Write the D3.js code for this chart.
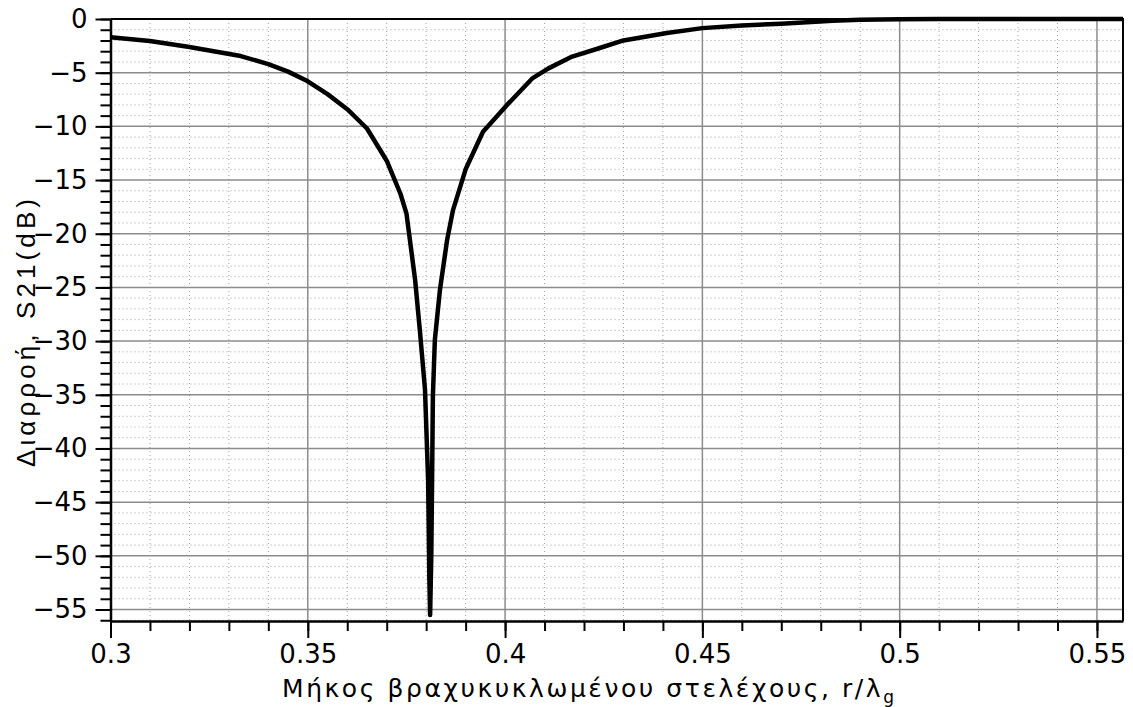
<!DOCTYPE html>
<html>
<head>
<meta charset="utf-8">
<script src="https://cdn.jsdelivr.net/npm/d3@7"></script>
<style>
  body { margin: 0; background: #fff; }
  svg { display: block; }
  .tick text { font-family: "DejaVu Sans", sans-serif; font-size: 26px; fill: #000; }
</style>
</head>
<body>
<div id="container"></div>
<script>
// stub length r/lambda_g
const stubLength = [0.300, 0.310, 0.320, 0.333, 0.340, 0.345, 0.350, 0.355, 0.360, 0.365,
  0.370, 0.3735, 0.375, 0.3772, 0.3784, 0.3797, 0.3805, 0.3808, 0.3810, 0.3813,
  0.3815, 0.3817, 0.3822, 0.3835, 0.3853, 0.3868, 0.390, 0.3944, 0.4005, 0.407,
  0.411, 0.417, 0.424, 0.430, 0.441, 0.450, 0.460, 0.470, 0.483, 0.490,
  0.500, 0.510, 0.5566]
// leakage S21 (dB)
const s21 = [-1.7, -2.05, -2.6, -3.45, -4.2, -4.9, -5.8, -7.0, -8.4, -10.2,
  -13.2, -16.3, -18.1, -24.3, -29.0, -34.5, -43.0, -52.0, -55.5, -50.0,
  -43.0, -35.2, -29.9, -25.2, -20.6, -17.8, -14.0, -10.5, -8.0, -5.5,
  -4.6, -3.5, -2.7, -2.0, -1.3, -0.85, -0.6, -0.45, -0.16, -0.08,
  -0.03, -0.01, 0]

const xMajor = [0.3, 0.35, 0.4, 0.45, 0.5, 0.55]
const yMajor = [0, -5, -10, -15, -20, -25, -30, -35, -40, -45, -50, -55]

const xLabel = 'Μήκος βραχυκυκλωμένου στελέχους, r/λ'
const yLabel = 'Διαρροή, S21(dB)'

const w = 1133
const h = 707
const margin = { left: 110.5, right: 10, top: 19, bottom: 86 }

const x = d3.scaleLinear()
  .domain([0.3, 0.5566])
  .range([margin.left, w - margin.right])

const y = d3.scaleLinear()
  .domain([-56.07, 0])
  .range([h - margin.bottom, margin.top])

const xMinor = d3.range(30, 56).map(d => d / 100)
const yMinor = d3.range(-56, 1)

const svg = d3.select('#container')
  .append('svg')
  .attr('width', w)
  .attr('height', h)

//GRID minor (dotted)
const grid = svg.append('g')
grid.selectAll('.vmin')
  .data(xMinor.filter(d => Math.round(d * 100) % 5 !== 0))
  .enter().append('line')
  .attr('x1', d => x(d)).attr('x2', d => x(d))
  .attr('y1', y.range()[1]).attr('y2', y.range()[0])
  .attr('stroke', '#a0a0a0')
  .attr('stroke-width', 1)
  .attr('stroke-dasharray', '1,3')

grid.selectAll('.hmin')
  .data(yMinor.filter(d => d % 5 !== 0))
  .enter().append('line')
  .attr('y1', d => y(d)).attr('y2', d => y(d))
  .attr('x1', x.range()[0]).attr('x2', x.range()[1])
  .attr('stroke', '#a0a0a0')
  .attr('stroke-width', 1)
  .attr('stroke-dasharray', '1,3')

//GRID major (solid)
grid.selectAll('.vmaj')
  .data(xMajor.slice(1))
  .enter().append('line')
  .attr('x1', d => x(d)).attr('x2', d => x(d))
  .attr('y1', y.range()[1]).attr('y2', y.range()[0])
  .attr('stroke', '#8c8c8c')
  .attr('stroke-width', 1.5)

grid.selectAll('.hmaj')
  .data(yMajor.slice(1))
  .enter().append('line')
  .attr('y1', d => y(d)).attr('y2', d => y(d))
  .attr('x1', x.range()[0]).attr('x2', x.range()[1])
  .attr('stroke', '#8c8c8c')
  .attr('stroke-width', 1.5)

//BORDER top + right
svg.append('path')
  .attr('d', `M${x.range()[0]},${y.range()[1]}H${x.range()[1]}V${y.range()[0]}`)
  .attr('fill', 'none')
  .attr('stroke', '#000')
  .attr('stroke-width', 2)

//AXES
const bottom = h - margin.bottom
svg.append('g')
  .attr('transform', `translate(0,${bottom})`)
  .call(d3.axisBottom(x).tickValues(xMinor).tickSize(10).tickSizeOuter(0).tickFormat(''))
  .call(g => g.selectAll('line').attr('stroke-width', 2))
  .call(g => g.select('.domain').attr('stroke-width', 2.5))

svg.append('g')
  .attr('transform', `translate(0,${bottom})`)
  .call(d3.axisBottom(x).tickValues(xMajor).tickSize(17).tickSizeOuter(0).tickPadding(7)
    .tickFormat(d => d3.format('')(+d.toFixed(2))))
  .call(g => g.select('.domain').remove())
  .call(g => g.selectAll('line').attr('stroke-width', 2))

svg.append('g')
  .attr('transform', `translate(${margin.left},0)`)
  .call(d3.axisLeft(y).tickValues(yMinor).tickSize(10).tickSizeOuter(0).tickFormat(''))
  .call(g => g.selectAll('line').attr('stroke-width', 2))
  .call(g => g.select('.domain').attr('stroke-width', 2.5))

svg.append('g')
  .attr('transform', `translate(${margin.left},0)`)
  .call(d3.axisLeft(y).tickValues(yMajor).tickSize(15).tickSizeOuter(0).tickPadding(8))
  .call(g => g.select('.domain').remove())
  .call(g => g.selectAll('line').attr('stroke-width', 2))

//CURVE
const line = d3.line()
  .x((d, i) => x(stubLength[i]))
  .y(d => y(d))

svg.append('path')
  .datum(s21)
  .attr('d', line)
  .attr('fill', 'none')
  .attr('stroke', '#000')
  .attr('stroke-width', 4.5)
  .attr('stroke-linejoin', 'round')

//LABELS
const xl = svg.append('text')
  .attr('x', 282)
  .attr('y', 697)
  .attr('font-family', '"DejaVu Sans", sans-serif')
  .attr('font-size', 25)
  .attr('textLength', 612)
  .attr('lengthAdjust', 'spacing')
  .attr('fill', '#000')
xl.append('tspan').text(xLabel)
xl.append('tspan').attr('dy', 6).attr('font-size', 17).text('g')

svg.append('text')
  .attr('transform', 'translate(35,333) rotate(-90)')
  .attr('text-anchor', 'middle')
  .attr('font-family', '"Liberation Sans", Arial, sans-serif')
  .attr('font-size', 26)
  .attr('textLength', 268)
  .attr('lengthAdjust', 'spacing')
  .attr('fill', '#000')
  .text(yLabel)
</script>
</body>
</html>
